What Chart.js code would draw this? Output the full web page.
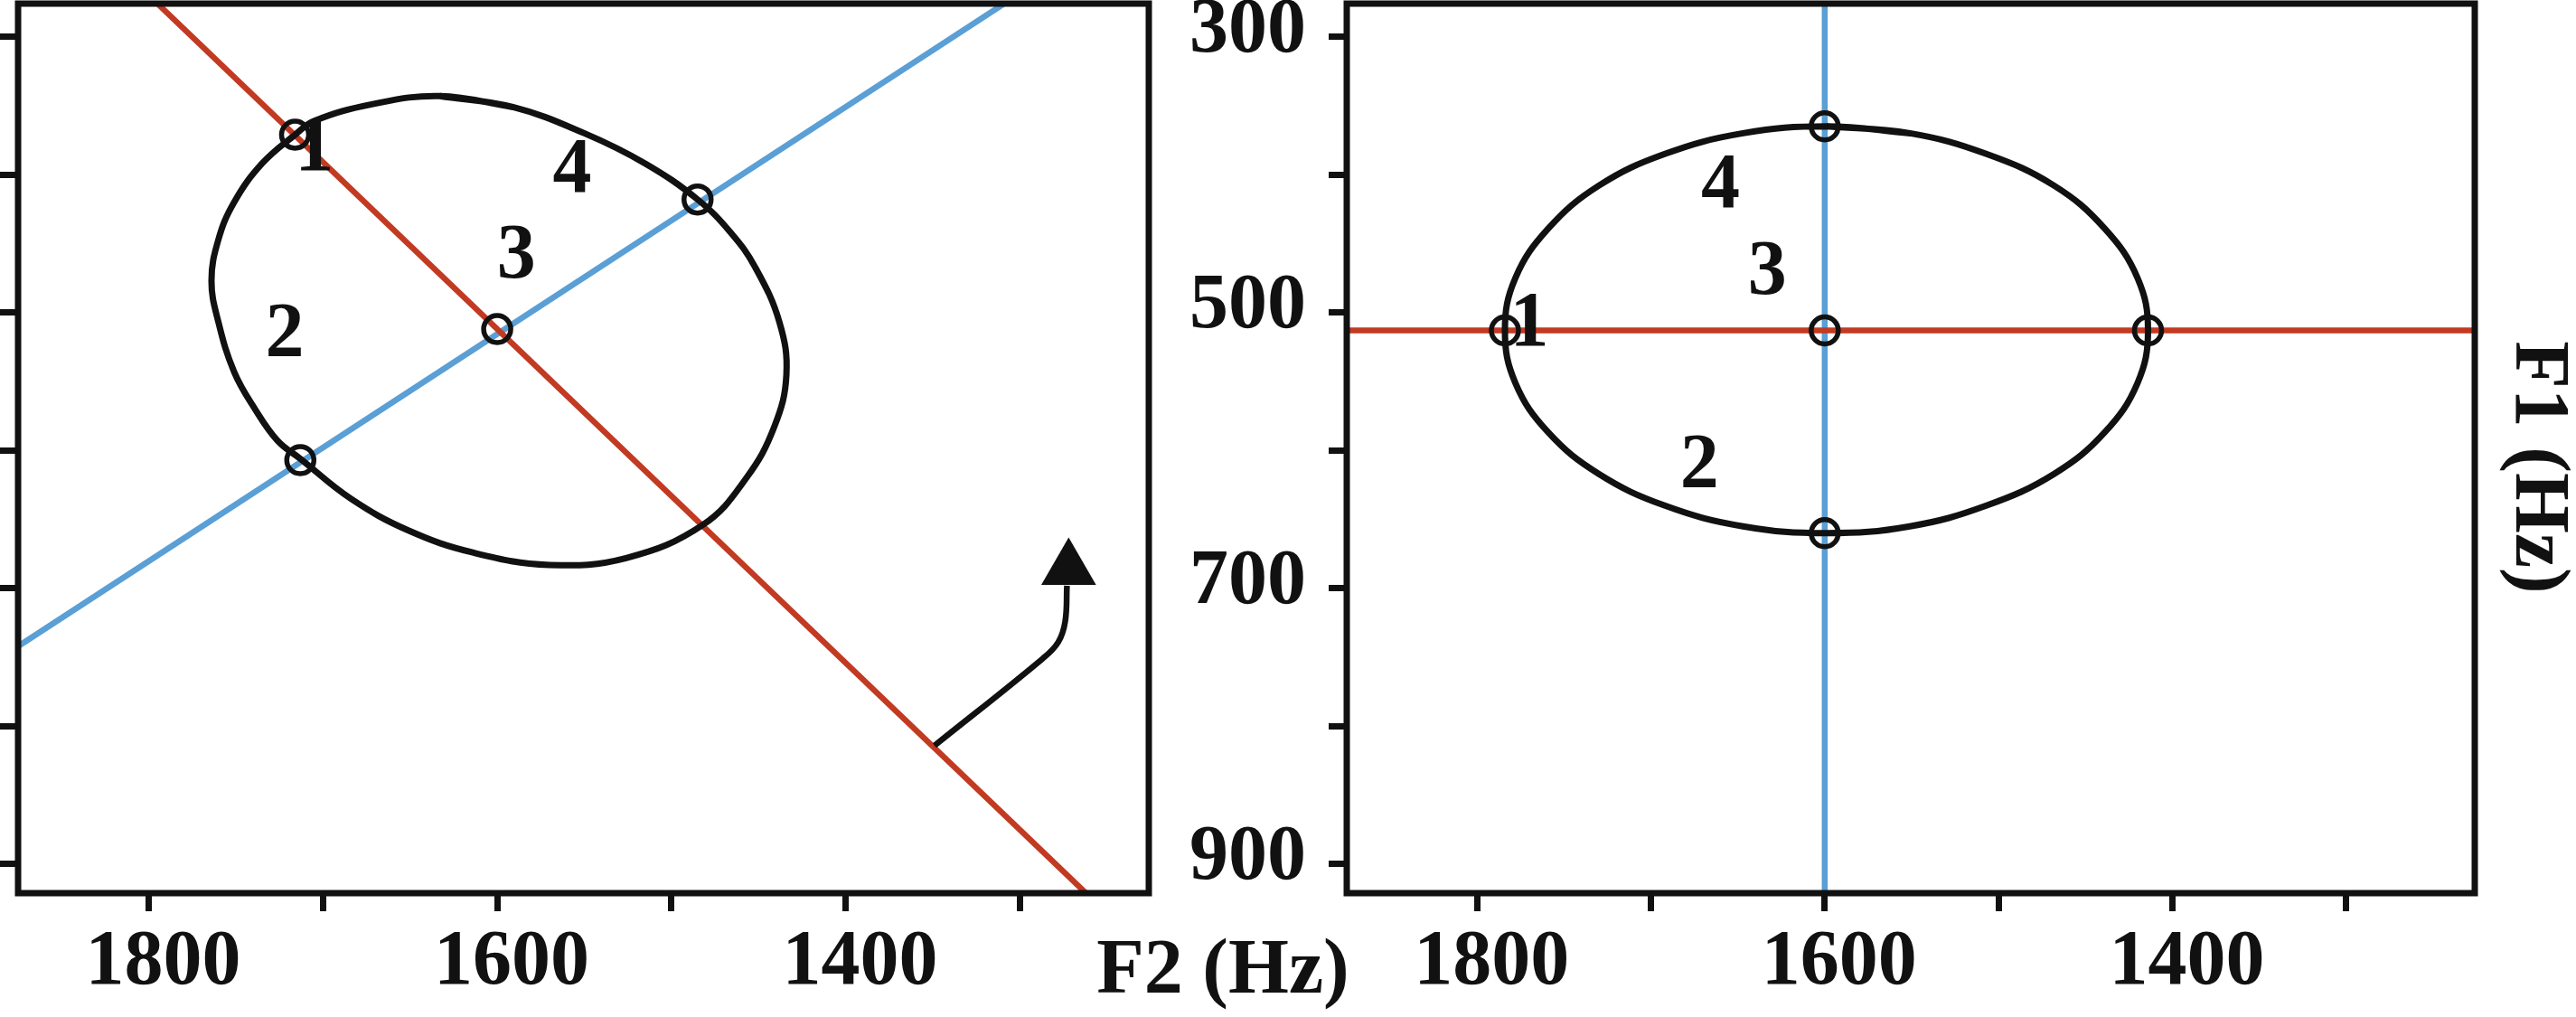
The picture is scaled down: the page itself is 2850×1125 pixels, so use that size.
<!DOCTYPE html>
<html>
<head>
<meta charset="utf-8">
<script src="https://cdn.jsdelivr.net/npm/chart.js@4.4.1/dist/chart.umd.min.js"></script>
<style>
  html, body { margin: 0; padding: 0; background: #fff; }
  body { width: 2850px; height: 1125px; position: relative; overflow: hidden; }
  canvas { position: absolute; top: 0; }
  #left { left: 0; }
  #right { left: 1290px; }
</style>
</head>
<body>
<canvas id="left" width="1500" height="1125"></canvas>
<canvas id="right" width="1560" height="1125"></canvas>
<script>
// axis ticks, Hz
const f2Ticks = [1800, 1700, 1600, 1500, 1400, 1300];
const f2Labels = [1800, 1600, 1400];
const f1Ticks = [300, 400, 500, 600, 700, 800, 900];
const f1Labels = [300, 500, 700, 900];

// left panel: tilted ellipse, F2/F1 pairs
const tiltF2 = [1633, 1591, 1550, 1515, 1485, 1466, 1452, 1438, 1434, 1441, 1457, 1482, 1526, 1570, 1614,
                1651, 1684, 1713, 1726, 1739, 1751, 1760, 1764, 1760, 1751, 1735, 1716, 1705, 1672, 1633, 1591];
const tiltF1 = [343, 351, 370, 392, 418, 442, 467, 507, 545, 583, 620, 654, 678, 683, 674,
                658, 635, 606, 593, 570, 543, 507, 477, 447, 420, 392, 371, 361, 349, 343, 351];
const tiltPtF2 = [1716, 1600, 1485, 1713];
const tiltPtF1 = [371, 512, 418, 607];
const tiltRedF2 = [1795, 1262];
const tiltRedF1 = [276, 921];
const tiltBlueF2 = [1875, 1309];
const tiltBlueF1 = [742, 276];
const arrowF2 = [1349, 1287, 1278, 1274, 1273];
const arrowF1 = [814, 751, 739, 724, 698];
const arrowTipF2 = [1272];
const arrowTipF1 = [686];
const tiltNum = ['1', '2', '3', '4'];
const tiltNumF2 = [1705, 1722, 1589, 1557];
const tiltNumF1 = [382, 517, 460, 398];

// right panel: the same ellipse turned onto the axes
const flatF2 = [1599, 1551, 1507, 1468, 1439, 1420, 1414, 1420, 1439, 1468, 1507, 1551, 1599,
                1647, 1692, 1730, 1759, 1778, 1784, 1778, 1759, 1730, 1692, 1647, 1599, 1551];
const flatF1 = [365, 370, 385, 408, 439, 475, 513, 551, 587, 617, 640, 655, 660,
                655, 640, 617, 587, 551, 513, 475, 439, 408, 385, 370, 365, 370];
const flatPtF2 = [1784, 1600, 1414, 1600, 1600];
const flatPtF1 = [513, 513, 513, 365, 660];
const flatRedF2 = [1875, 1226];
const flatRedF1 = [513, 513];
const flatBlueF2 = [1600, 1600];
const flatBlueF1 = [276, 921];
const flatNum = ['1', '2', '3', '4'];
const flatNumF2 = [1770, 1672, 1633, 1660];
const flatNumF1 = [509, 612, 472, 409];

const INK = '#111';
const RED = '#c23a22';
const BLUE = '#5a9fd5';
const SERIF = 'Liberation Serif';

const pts = (xs, ys) => xs.map((x, i) => ({ x: x, y: ys[i] }));

function markers(xs, ys) {
  return { data: pts(xs, ys), pointRadius: 15, pointBorderWidth: 5.5, pointBorderColor: INK,
           pointBackgroundColor: 'rgba(0,0,0,0)', showLine: false };
}
function curve(xs, ys, color, width, tension) {
  return { data: pts(xs, ys), showLine: true, borderColor: color, borderWidth: width,
           tension: tension, pointRadius: 0 };
}

function makeScales(showY, yWidth) {
  return {
    x: {
      type: 'linear', reverse: true, min: 1226, max: 1875,
      afterBuildTicks: s => { s.ticks = f2Ticks.map(v => ({ value: v })); },
      afterFit: s => { s.height = 137; s.paddingLeft = 0; s.paddingRight = 0; },
      ticks: { autoSkip: false, maxRotation: 0, padding: 6, labelOffset: 16, color: INK,
               font: { family: SERIF, size: 86, weight: 'bold' },
               callback: v => f2Labels.includes(v) ? String(v) : '' },
      grid: { drawOnChartArea: false, tickLength: 20, tickWidth: 7, tickColor: INK },
      border: { display: false }
    },
    y: {
      type: 'linear', reverse: true, min: 276, max: 921,
      afterBuildTicks: s => { s.ticks = f1Ticks.map(v => ({ value: v })); },
      afterFit: s => { s.width = yWidth; s.paddingTop = 0; s.paddingBottom = 0; },
      ticks: { autoSkip: false, padding: 25, labelOffset: -6, color: INK,
               font: { family: SERIF, size: 86, weight: 'bold' },
               callback: v => (showY && f1Labels.includes(v)) ? String(v) : '' },
      grid: { drawOnChartArea: false, tickLength: 20, tickWidth: 7, tickColor: INK },
      border: { display: false }
    }
  };
}

// box round the plot area, numbers 1-4 and the axis titles
const decor = {
  id: 'decor',
  afterDatasetsDraw(chart, args, opts) {
    const { ctx, chartArea: a, scales: { x, y } } = chart;
    ctx.save();
    ctx.lineWidth = 7;
    ctx.strokeStyle = INK;
    ctx.strokeRect(a.left, a.top, a.right - a.left, a.bottom - a.top);
    ctx.fillStyle = INK;
    ctx.font = 'bold 86px "' + SERIF + '"';
    ctx.textAlign = 'center';
    ctx.textBaseline = 'middle';
    opts.nums.forEach((t, i) => {
      ctx.fillText(t, x.getPixelForValue(opts.f2[i]), y.getPixelForValue(opts.f1[i]));
    });
    const ttl = opts.title;
    ctx.translate(ttl.x, ttl.y);
    ctx.rotate(ttl.rot);
    ctx.textBaseline = ttl.rot ? 'middle' : 'alphabetic';
    ctx.fillText(ttl.text, 0, 0);
    ctx.restore();
  }
};

function baseOptions(showY, yWidth, padRight, decorOpts) {
  return {
    responsive: false, animation: false, devicePixelRatio: 1, events: [],
    layout: { autoPadding: false, padding: { left: 0, top: 4, right: padRight, bottom: 0 } },
    scales: makeScales(showY, yWidth),
    plugins: { legend: { display: false }, tooltip: { enabled: false }, decor: decorOpts }
  };
}

new Chart(document.getElementById('left'), {
  type: 'scatter',
  data: {
    datasets: [
      markers(tiltPtF2, tiltPtF1),
      { data: pts(arrowTipF2, arrowTipF1), pointStyle: 'triangle', pointRadius: 35,
        pointBackgroundColor: INK, pointBorderWidth: 0, showLine: false },
      curve(arrowF2, arrowF1, INK, 6.5, 0.4),
      curve(tiltF2, tiltF1, INK, 7, 0.4),
      curve(tiltRedF2, tiltRedF1, RED, 6.5, 0),
      curve(tiltBlueF2, tiltBlueF1, BLUE, 6.5, 0)
    ]
  },
  options: baseOptions(false, 20, 229, {
    nums: tiltNum, f2: tiltNumF2, f1: tiltNumF1,
    title: { text: 'F2 (Hz)', x: 1353, y: 1098, rot: 0 }
  }),
  plugins: [decor]
});

new Chart(document.getElementById('right'), {
  type: 'scatter',
  data: {
    datasets: [
      markers(flatPtF2, flatPtF1),
      curve(flatF2, flatF1, INK, 7, 0.4),
      curve(flatRedF2, flatRedF1, RED, 6.5, 0),
      curve(flatBlueF2, flatBlueF1, BLUE, 6.5, 0)
    ]
  },
  options: baseOptions(true, 200, 112, {
    nums: flatNum, f2: flatNumF2, f1: flatNumF1,
    title: { text: 'F1 (Hz)', x: 1516, y: 517, rot: Math.PI / 2 }
  }),
  plugins: [decor]
});
</script>
</body>
</html>
